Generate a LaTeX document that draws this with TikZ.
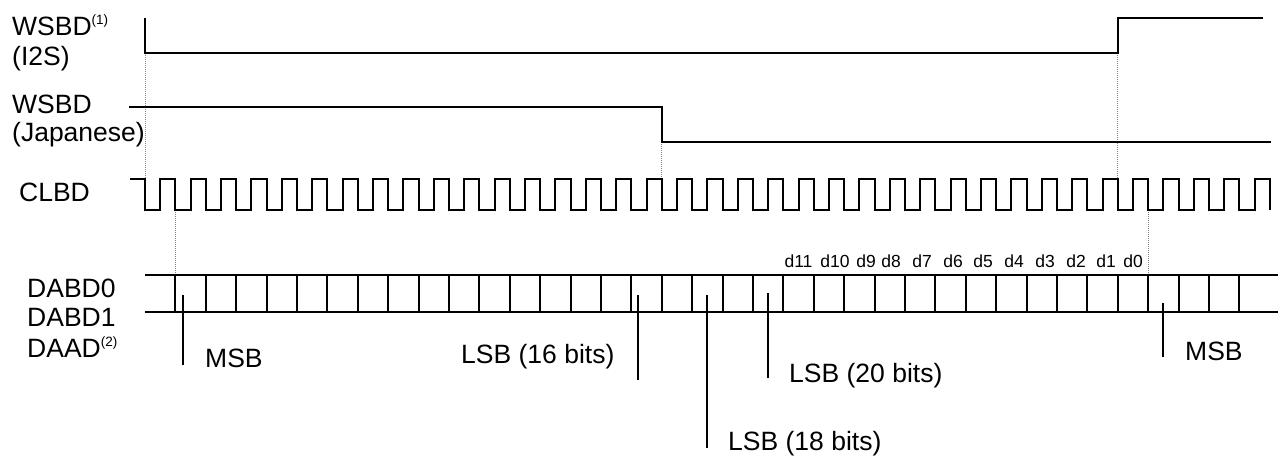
\documentclass[tikz,border=0pt]{standalone}
\usepackage{fontspec}
\setmainfont{Liberation Sans}
\begin{document}
\begin{tikzpicture}[x=1pt,y=-1pt,
  sig/.style={line width=2pt,line join=miter},
  guide/.style={gray,line width=0.8pt,dash pattern=on 1pt off 1pt},
  bitmarker/.style={line width=2pt},
  lbl/.style={anchor=base west,inner sep=0pt,font=\fontsize{26.5}{30}\selectfont},
  bitlbl/.style={anchor=base,inner sep=0pt,font=\fontsize{17.5}{20}\selectfont}]
\useasboundingbox (0,0) rectangle (1278,458);
\def\T{30.4}
% labels
\node[lbl] (wsi) at (12,35) {WSBD\raisebox{11pt}{\fontsize{13.5}{14}\selectfont(1)}};
\node[lbl] (wsi2) at (12,65) {(I2S)};
\node[lbl] (wsj) at (12,113) {WSBD};
\node[lbl] (wsj2) at (12,141) {(Japanese)};
\node[lbl] (clk) at (19,201) {CLBD};
\node[lbl] (d0) at (27,297) {DABD0};
\node[lbl] (d1) at (27,326) {DABD1};
\node[lbl] (da) at (27,357) {DAAD\raisebox{11pt}{\fontsize{13.5}{14}\selectfont(2)}};
% guides
\draw[guide] (145,53) -- (145,179);
\draw[guide] ({145+17*\T},142) -- ({145+17*\T},179);
\draw[guide] ({145+32*\T},53) -- ({145+32*\T},179);
\draw[guide] ({145+\T},210) -- ({145+\T},275);
\draw[guide] ({145+33*\T},210) -- ({145+33*\T},275);
% WSBD I2S
\draw[sig] (145,18) -- (145,53) -- ({145+32*\T},53) -- ({145+32*\T},18) -- (1263,18);
% WSBD Japanese
\draw[sig] (129,107) -- ({145+17*\T},107) -- ({145+17*\T},142) -- (1271,142);
% CLBD
\draw[sig] (130,179) -- (145,179) -- (145,210)
  \foreach \k in {0,...,36}{ -- ({145+\T*\k+\T/2},210) -- ({145+\T*\k+\T/2},179) -- ({145+\T*(\k+1)},179) -- ({145+\T*(\k+1)},210)};
% data bus
\draw[sig] (145,275) -- (1278,275);
\draw[sig] (145,312) -- (1278,312);
\foreach \k in {1,...,36}{\draw[sig] ({145+\T*\k},275) -- ({145+\T*\k},313);}
\foreach \n/\x in {11/798.5,10/835,9/866,8/891,7/922,6/953,5/983,4/1014,3/1045,2/1076,1/1106,0/1133}{
  \node[bitlbl] (b\n) at (\x,267) {d\n};}
% markers
\draw[bitmarker] (183,295) -- (183,365);
\node[lbl] (msb1) at (205,367) {MSB};
\draw[bitmarker] (638,295) -- (638,380);
\node[lbl] (lsb16) at (461,363) {LSB (16 bits)};
\draw[bitmarker] (707,295) -- (707,448);
\node[lbl] (lsb18) at (728,450) {LSB (18 bits)};
\draw[bitmarker] (768,293) -- (768,378);
\node[lbl] (lsb20) at (789,382) {LSB (20 bits)};
\draw[bitmarker] (1163,303) -- (1163,357);
\node[lbl] (msb2) at (1185,360) {MSB};
\end{tikzpicture}
\end{document}
